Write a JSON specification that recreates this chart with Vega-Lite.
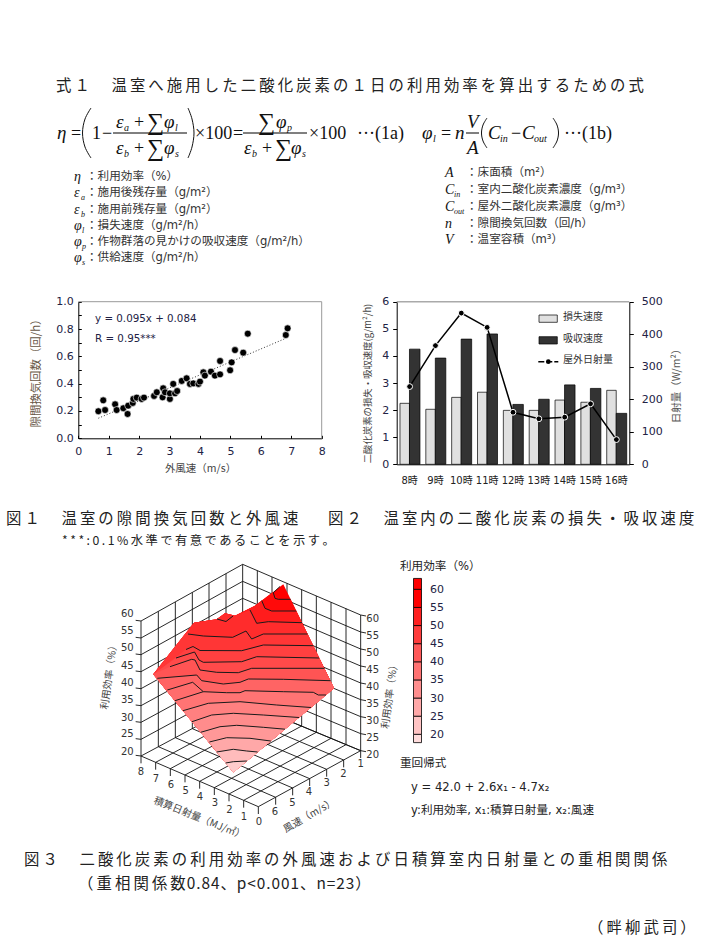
{
"$schema":"https://vega.github.io/schema/vega-lite/v6.json",
"width":705,"height":941,"padding":0,"autosize":{"type":"none"},"background":"white",
"config":{"view":{"stroke":null},"axis":{"grid":false,"labelFlush":false},"text":{"font":"Noto Sans CJK JP"}},
"resolve":{"scale":{"x":"independent","y":"independent","color":"independent"},"axis":{"x":"independent","y":"independent"}},
"datasets":{
"scatter":[{"w":0.66,"n":0.198},{"w":0.82,"n":0.278},{"w":0.88,"n":0.207},{"w":1.21,"n":0.249},{"w":1.26,"n":0.207},{"w":1.48,"n":0.22},{"w":1.62,"n":0.178},{"w":1.64,"n":0.239},{"w":1.79,"n":0.259},{"w":1.81,"n":0.288},{"w":1.92,"n":0.298},{"w":2.08,"n":0.288},{"w":2.16,"n":0.298},{"w":2.49,"n":0.31},{"w":2.58,"n":0.337},{"w":2.79,"n":0.366},{"w":2.77,"n":0.3},{"w":2.85,"n":0.337},{"w":3.01,"n":0.288},{"w":3.01,"n":0.329},{"w":3.12,"n":0.398},{"w":3.18,"n":0.329},{"w":3.25,"n":0.346},{"w":3.4,"n":0.42},{"w":3.56,"n":0.439},{"w":3.67,"n":0.398},{"w":3.78,"n":0.402},{"w":3.95,"n":0.398},{"w":4.0,"n":0.415},{"w":4.11,"n":0.483},{"w":4.16,"n":0.459},{"w":4.36,"n":0.488},{"w":4.49,"n":0.459},{"w":4.66,"n":0.468},{"w":4.66,"n":0.566},{"w":4.99,"n":0.498},{"w":5.04,"n":0.556},{"w":5.15,"n":0.646},{"w":5.42,"n":0.627},{"w":5.57,"n":0.766},{"w":6.82,"n":0.756},{"w":6.88,"n":0.805}],
"hourly":[{"h":"8時","loss":2.25,"absorb":4.25,"solar":239},{"h":"9時","loss":2.03,"absorb":3.92,"solar":365},{"h":"10時","loss":2.47,"absorb":4.62,"solar":465},{"h":"11時","loss":2.66,"absorb":4.81,"solar":421},{"h":"12時","loss":1.99,"absorb":2.21,"solar":160},{"h":"13時","loss":1.99,"absorb":2.4,"solar":140},{"h":"14時","loss":2.37,"absorb":2.93,"solar":145},{"h":"15時","loss":2.29,"absorb":2.8,"solar":186},{"h":"16時","loss":2.73,"absorb":1.88,"solar":76}],
"grid3d":[
{"u":213,"v":603,"u2":518,"v2":440},{"u":213,"v":553,"u2":518,"v2":388},{"u":213,"v":502,"u2":518,"v2":336},{"u":213,"v":452,"u2":518,"v2":285},{"u":213,"v":401,"u2":518,"v2":233},{"u":213,"v":350,"u2":518,"v2":182},{"u":213,"v":299,"u2":518,"v2":130},{"u":213,"v":249,"u2":518,"v2":79},{"u":213,"v":198,"u2":518,"v2":28},
{"u":518,"v":440,"u2":872,"v2":587},{"u":518,"v":388,"u2":872,"v2":536},{"u":518,"v":336,"u2":872,"v2":485},{"u":518,"v":285,"u2":872,"v2":434},{"u":518,"v":233,"u2":872,"v2":384},{"u":518,"v":182,"u2":872,"v2":333},{"u":518,"v":130,"u2":872,"v2":282},{"u":518,"v":79,"u2":872,"v2":231},{"u":518,"v":28,"u2":872,"v2":180},
{"u":213,"v":198,"u2":213,"v2":603},{"u":265,"v":169,"u2":265,"v2":575},{"u":316,"v":141,"u2":316,"v2":548},{"u":367,"v":112,"u2":367,"v2":521},{"u":417,"v":84,"u2":417,"v2":494},{"u":468,"v":56,"u2":468,"v2":467},{"u":518,"v":28,"u2":518,"v2":440},
{"u":562,"v":47,"u2":562,"v2":458},{"u":606,"v":66,"u2":606,"v2":477},{"u":651,"v":85,"u2":651,"v2":495},{"u":695,"v":104,"u2":695,"v2":513},{"u":739,"v":123,"u2":739,"v2":532},{"u":783,"v":142,"u2":783,"v2":550},{"u":828,"v":161,"u2":828,"v2":569},{"u":872,"v":180,"u2":872,"v2":587},
{"u":213,"v":603,"u2":565,"v2":755},{"u":265,"v":575,"u2":617,"v2":727},{"u":316,"v":548,"u2":668,"v2":699},{"u":367,"v":521,"u2":719,"v2":671},{"u":417,"v":494,"u2":770,"v2":643},{"u":468,"v":467,"u2":821,"v2":615},{"u":518,"v":440,"u2":872,"v2":587},
{"u":257,"v":622,"u2":562,"v2":458},{"u":301,"v":641,"u2":606,"v2":477},{"u":345,"v":660,"u2":651,"v2":495},{"u":389,"v":679,"u2":695,"v2":513},{"u":433,"v":698,"u2":739,"v2":532},{"u":477,"v":717,"u2":783,"v2":550},{"u":521,"v":736,"u2":828,"v2":569},{"u":565,"v":755,"u2":872,"v2":587},
{"u":213,"v":603,"u2":213,"v2":625},{"u":257,"v":622,"u2":257,"v2":644},{"u":301,"v":641,"u2":301,"v2":663},{"u":345,"v":660,"u2":345,"v2":682},{"u":389,"v":679,"u2":389,"v2":701},{"u":433,"v":698,"u2":433,"v2":720},{"u":477,"v":717,"u2":477,"v2":739},{"u":521,"v":736,"u2":521,"v2":758},{"u":565,"v":755,"u2":565,"v2":777},
{"u":617,"v":727,"u2":617,"v2":749},{"u":668,"v":699,"u2":668,"v2":721},{"u":719,"v":671,"u2":719,"v2":693},{"u":770,"v":643,"u2":770,"v2":665},{"u":821,"v":615,"u2":821,"v2":637},{"u":872,"v":587,"u2":872,"v2":609},
{"u":197,"v":601,"u2":213,"v2":603},{"u":197,"v":551,"u2":213,"v2":553},{"u":197,"v":500,"u2":213,"v2":502},{"u":197,"v":450,"u2":213,"v2":452},{"u":197,"v":399,"u2":213,"v2":401},{"u":197,"v":348,"u2":213,"v2":350},{"u":197,"v":297,"u2":213,"v2":299},{"u":197,"v":247,"u2":213,"v2":249},{"u":197,"v":196,"u2":213,"v2":198},
{"u":872,"v":587,"u2":888,"v2":590},{"u":872,"v":536,"u2":888,"v2":539},{"u":872,"v":485,"u2":888,"v2":488},{"u":872,"v":434,"u2":888,"v2":437},{"u":872,"v":384,"u2":888,"v2":387},{"u":872,"v":333,"u2":888,"v2":336},{"u":872,"v":282,"u2":888,"v2":285},{"u":872,"v":231,"u2":888,"v2":234},{"u":872,"v":180,"u2":888,"v2":183}],
"bands":[
{"b":"s","u":153.3,"v":674.3,"v2":674.3},{"b":"s","u":194,"v":622.7,"v2":724.2},{"b":"s","u":216.7,"v":619.3,"v2":752},{"b":"s","u":225,"v":613.3,"v2":762.1},{"b":"s","u":233.3,"v":615.3,"v2":772.3},{"b":"s","u":235,"v":615.7,"v2":770.9},{"b":"s","u":255,"v":605.7,"v2":754.2},{"b":"s","u":283.3,"v":584.3,"v2":730.6},{"b":"s","u":334,"v":688.3,"v2":688.3},
{"b":"C","u":153.3,"v":674.3,"v2":674.3},{"b":"C","u":194,"v":622.7,"v2":724.2},{"b":"C","u":216.7,"v":619.3,"v2":752},{"b":"C","u":225,"v":613.3,"v2":762.1},{"b":"C","u":233.3,"v":615.3,"v2":772.3},{"b":"C","u":235,"v":615.7,"v2":770.9},{"b":"C","u":255,"v":605.7,"v2":754.2},{"b":"C","u":273,"v":592,"v2":739.2},{"b":"C","u":278.3,"v":599.3,"v2":734.7},{"b":"C","u":290.6,"v":599.3,"v2":724.5},{"b":"C","u":334,"v":688.3,"v2":688.3},
{"b":"B","u":153.3,"v":674.3,"v2":674.3},{"b":"B","u":194,"v":622.7,"v2":724.2},{"b":"B","u":216.7,"v":619.3,"v2":752},{"b":"B","u":225,"v":613.3,"v2":762.1},{"b":"B","u":233.3,"v":615.3,"v2":772.3},{"b":"B","u":235,"v":615.7,"v2":770.9},{"b":"B","u":255,"v":605.7,"v2":754.2},{"b":"B","u":261.7,"v":600.6,"v2":748.7},{"b":"B","u":265,"v":608.3,"v2":745.9},{"b":"B","u":271.7,"v":611,"v2":740.3},{"b":"B","u":296.3,"v":611,"v2":719.8},{"b":"B","u":334,"v":688.3,"v2":688.3},
{"b":"A","u":153.3,"v":674.3,"v2":674.3},{"b":"A","u":194,"v":622.7,"v2":724.2},{"b":"A","u":216.7,"v":619.3,"v2":752},{"b":"A","u":225,"v":613.3,"v2":762.1},{"b":"A","u":233.3,"v":615.3,"v2":772.3},{"b":"A","u":235,"v":615.7,"v2":770.9},{"b":"A","u":250,"v":610,"v2":758.4},{"b":"A","u":256.7,"v":623.3,"v2":752.8},{"b":"A","u":268.3,"v":621.7,"v2":743.1},{"b":"A","u":302,"v":622.7,"v2":715},{"b":"A","u":334,"v":688.3,"v2":688.3},
{"b":"c11","u":153.3,"v":674.3,"v2":674.3},{"b":"c11","u":186,"v":632.8,"v2":714.4},{"b":"c11","u":203.3,"v":636,"v2":735.6},{"b":"c11","u":232.7,"v":637.3,"v2":771.6},{"b":"c11","u":246,"v":631,"v2":761.7},{"b":"c11","u":251.7,"v":639,"v2":756.9},{"b":"c11","u":263.3,"v":634,"v2":747.3},{"b":"c11","u":307.5,"v":634,"v2":710.3},{"b":"c11","u":334,"v":688.3,"v2":688.3},
{"b":"c10","u":153.3,"v":674.3,"v2":674.3},{"b":"c10","u":186,"v":649.5,"v2":714.4},{"b":"c10","u":193,"v":646.5,"v2":722.9},{"b":"c10","u":200,"v":650.5,"v2":731.5},{"b":"c10","u":241.7,"v":650.7,"v2":765.3},{"b":"c10","u":263.3,"v":645,"v2":747.3},{"b":"c10","u":313.3,"v":645.7,"v2":705.5},{"b":"c10","u":334,"v":688.3,"v2":688.3},
{"b":"c9","u":153.3,"v":674.3,"v2":674.3},{"b":"c9","u":176,"v":658,"v2":702.1},{"b":"c9","u":194.5,"v":652,"v2":724.8},{"b":"c9","u":199,"v":660,"v2":730.3},{"b":"c9","u":203.3,"v":662.3,"v2":735.6},{"b":"c9","u":241.7,"v":661.7,"v2":765.3},{"b":"c9","u":256.7,"v":656.7,"v2":752.8},{"b":"c9","u":319,"v":658,"v2":700.8},{"b":"c9","u":334,"v":688.3,"v2":688.3},
{"b":"c8","u":153.3,"v":674.3,"v2":674.3},{"b":"c8","u":170,"v":666.7,"v2":694.8},{"b":"c8","u":191.7,"v":659.3,"v2":721.4},{"b":"c8","u":195,"v":660,"v2":725.4},{"b":"c8","u":200,"v":670,"v2":731.5},{"b":"c8","u":216.7,"v":672.3,"v2":752},{"b":"c8","u":233.3,"v":672.6,"v2":772.3},{"b":"c8","u":238.3,"v":672.7,"v2":768.1},{"b":"c8","u":251.7,"v":668.3,"v2":757},{"b":"c8","u":324.3,"v":668.3,"v2":696.5},{"b":"c8","u":334,"v":688.3,"v2":688.3},
{"b":"c7","u":153.3,"v":674.3,"v2":674.3},{"b":"c7","u":157.3,"v":678.3,"v2":679.2},{"b":"c7","u":196.7,"v":675,"v2":727.5},{"b":"c7","u":201.7,"v":680.7,"v2":733.6},{"b":"c7","u":223.3,"v":684,"v2":760},{"b":"c7","u":233.3,"v":683,"v2":772.3},{"b":"c7","u":240,"v":682.3,"v2":766.7},{"b":"c7","u":248.3,"v":679,"v2":759.8},{"b":"c7","u":283.3,"v":679.3,"v2":730.6},{"b":"c7","u":330.5,"v":680.7,"v2":691.2},{"b":"c7","u":334,"v":688.3,"v2":688.3},
{"b":"c6b","u":166.4,"v":690.3,"v2":690.3},{"b":"c6b","u":192.7,"v":682.3,"v2":722.6},{"b":"c6b","u":203.3,"v":691.7,"v2":735.6},{"b":"c6b","u":233.3,"v":692.7,"v2":772.3},{"b":"c6b","u":283.3,"v":691.7,"v2":730.6},{"b":"c6b","u":313.3,"v":692.3,"v2":705.6},{"b":"c6b","u":318.3,"v":695,"v2":701.4},{"b":"c6b","u":326,"v":695,"v2":695},
{"b":"c6","u":175,"v":700.7,"v2":700.7},{"b":"c6","u":203.3,"v":691.7,"v2":735.6},{"b":"c6","u":226.7,"v":692.7,"v2":764},{"b":"c6","u":233.3,"v":692.7,"v2":772.3},{"b":"c6","u":240,"v":692.7,"v2":766.7},{"b":"c6","u":245,"v":690.7,"v2":762.5},{"b":"c6","u":283.3,"v":691.7,"v2":730.6},{"b":"c6","u":313.3,"v":692.3,"v2":705.6},{"b":"c6","u":318.3,"v":695,"v2":701.4},{"b":"c6","u":326,"v":695,"v2":695},
{"b":"c5","u":183,"v":710.7,"v2":710.7},{"b":"c5","u":208.3,"v":703.3,"v2":741.7},{"b":"c5","u":233.3,"v":702,"v2":772.3},{"b":"c5","u":240,"v":701.7,"v2":766.7},{"b":"c5","u":276.7,"v":705,"v2":736.1},{"b":"c5","u":311,"v":707.5,"v2":707.5},
{"b":"c4","u":192,"v":721.7,"v2":721.7},{"b":"c4","u":211.7,"v":715,"v2":745.8},{"b":"c4","u":233.3,"v":713.3,"v2":772.3},{"b":"c4","u":263.3,"v":715,"v2":747.3},{"b":"c4","u":299,"v":717.5,"v2":717.5},
{"b":"c3","u":200.7,"v":732.3,"v2":732.3},{"b":"c3","u":220,"v":726.7,"v2":756},{"b":"c3","u":233.3,"v":725.5,"v2":772.3},{"b":"c3","u":236.7,"v":725.3,"v2":769.5},{"b":"c3","u":263.3,"v":727.3,"v2":747.3},{"b":"c3","u":285,"v":729.2,"v2":729.2},
{"b":"c2","u":209.4,"v":742,"v2":742},{"b":"c2","u":226.7,"v":737.7,"v2":764.2},{"b":"c2","u":233.3,"v":737.7,"v2":772.3},{"b":"c2","u":250,"v":738.3,"v2":758.4},{"b":"c2","u":270.8,"v":741,"v2":741},
{"b":"c1","u":216.7,"v":752,"v2":752},{"b":"c1","u":233.3,"v":749.3,"v2":772.3},{"b":"c1","u":246.7,"v":751,"v2":761.1},{"b":"c1","u":257.6,"v":752,"v2":752},
{"b":"c0","u":225.7,"v":763,"v2":763},{"b":"c0","u":233.3,"v":761.7,"v2":772.3},{"b":"c0","u":246.9,"v":761,"v2":761}],
"contours":[
{"c":"c0","i":1,"u":225.7,"v":763},{"c":"c0","i":2,"u":233.3,"v":761.7},{"c":"c0","i":3,"u":246.9,"v":761},
{"c":"c1","i":1,"u":216.7,"v":752},{"c":"c1","i":2,"u":233.3,"v":749.3},{"c":"c1","i":3,"u":246.7,"v":751},{"c":"c1","i":4,"u":257.6,"v":752},
{"c":"c2","i":1,"u":209.4,"v":742},{"c":"c2","i":2,"u":226.7,"v":737.7},{"c":"c2","i":3,"u":250,"v":738.3},{"c":"c2","i":4,"u":270.8,"v":741},
{"c":"c3","i":1,"u":200.7,"v":732.3},{"c":"c3","i":2,"u":220,"v":726.7},{"c":"c3","i":3,"u":236.7,"v":725.3},{"c":"c3","i":4,"u":263.3,"v":727.3},{"c":"c3","i":5,"u":285,"v":729.2},
{"c":"c4","i":1,"u":192,"v":721.7},{"c":"c4","i":2,"u":211.7,"v":715},{"c":"c4","i":3,"u":233.3,"v":713.3},{"c":"c4","i":4,"u":263.3,"v":715},{"c":"c4","i":5,"u":299,"v":717.5},
{"c":"c5","i":1,"u":183,"v":710.7},{"c":"c5","i":2,"u":208.3,"v":703.3},{"c":"c5","i":3,"u":240,"v":701.7},{"c":"c5","i":4,"u":276.7,"v":705},{"c":"c5","i":5,"u":311,"v":707.5},
{"c":"c6","i":1,"u":175,"v":700.7},{"c":"c6","i":2,"u":203.3,"v":691.7},{"c":"c6","i":3,"u":226.7,"v":692.7},{"c":"c6","i":4,"u":240,"v":692.7},{"c":"c6","i":5,"u":245,"v":690.7},{"c":"c6","i":6,"u":283.3,"v":691.7},{"c":"c6","i":7,"u":313.3,"v":692.3},{"c":"c6","i":8,"u":318.3,"v":695},{"c":"c6","i":9,"u":326,"v":695},
{"c":"c6b","i":1,"u":167.3,"v":690},{"c":"c6b","i":2,"u":192.7,"v":682.3},{"c":"c6b","i":3,"u":203.3,"v":691.7},
{"c":"c7","i":1,"u":157.3,"v":678.3},{"c":"c7","i":2,"u":196.7,"v":675},{"c":"c7","i":3,"u":201.7,"v":680.7},{"c":"c7","i":4,"u":223.3,"v":684},{"c":"c7","i":5,"u":240,"v":682.3},{"c":"c7","i":6,"u":248.3,"v":679},{"c":"c7","i":7,"u":283.3,"v":679.3},{"c":"c7","i":8,"u":330.5,"v":680.7},
{"c":"c8","i":1,"u":170,"v":666.7},{"c":"c8","i":2,"u":191.7,"v":659.3},{"c":"c8","i":3,"u":195,"v":660},{"c":"c8","i":4,"u":200,"v":670},{"c":"c8","i":5,"u":216.7,"v":672.3},{"c":"c8","i":6,"u":238.3,"v":672.7},{"c":"c8","i":7,"u":251.7,"v":668.3},{"c":"c8","i":8,"u":324.3,"v":668.3},
{"c":"c9","i":1,"u":176,"v":658},{"c":"c9","i":2,"u":194.5,"v":652},{"c":"c9","i":3,"u":199,"v":660},{"c":"c9","i":4,"u":203.3,"v":662.3},{"c":"c9","i":5,"u":241.7,"v":661.7},{"c":"c9","i":6,"u":256.7,"v":656.7},{"c":"c9","i":7,"u":319,"v":658},
{"c":"c10","i":1,"u":186,"v":649.5},{"c":"c10","i":2,"u":193,"v":646.5},{"c":"c10","i":3,"u":200,"v":650.5},{"c":"c10","i":4,"u":241.7,"v":650.7},{"c":"c10","i":5,"u":263.3,"v":645},{"c":"c10","i":6,"u":313.3,"v":645.7},
{"c":"c11","i":1,"u":188,"v":634},{"c":"c11","i":2,"u":203.3,"v":636},{"c":"c11","i":3,"u":232.7,"v":637.3},{"c":"c11","i":4,"u":246,"v":631},{"c":"c11","i":5,"u":251.7,"v":639},{"c":"c11","i":6,"u":263.3,"v":634},{"c":"c11","i":7,"u":307.5,"v":634},
{"c":"A","i":1,"u":250,"v":610},{"c":"A","i":2,"u":256.7,"v":623.3},{"c":"A","i":3,"u":268.3,"v":621.7},{"c":"A","i":4,"u":302,"v":622.7},
{"c":"B","i":1,"u":261.7,"v":600.6},{"c":"B","i":2,"u":265,"v":608.3},{"c":"B","i":3,"u":271.7,"v":611},{"c":"B","i":4,"u":296.3,"v":611},
{"c":"C","i":1,"u":280,"v":586.5},{"c":"C","i":2,"u":273.3,"v":592.7},{"c":"C","i":3,"u":275,"v":598.3},{"c":"C","i":4,"u":278.3,"v":599.3},{"c":"C","i":5,"u":290.6,"v":599.3},
{"c":"D","i":1,"u":217,"v":619},{"c":"D","i":2,"u":226,"v":621.5},{"c":"D","i":3,"u":233,"v":616}],
"cbar":[{"lo":17.7,"hi":20},{"lo":20,"hi":25},{"lo":25,"hi":30},{"lo":30,"hi":35},{"lo":35,"hi":40},{"lo":40,"hi":45},{"lo":45,"hi":50},{"lo":50,"hi":55},{"lo":55,"hi":60},{"lo":60,"hi":63}],
"parens":[
{"p":"a","i":1,"a":91,"b":108},{"p":"a","i":2,"a":85,"b":119},{"p":"a","i":3,"a":82.5,"b":133},{"p":"a","i":4,"a":85,"b":147},{"p":"a","i":5,"a":91,"b":158},
{"p":"b","i":1,"a":188,"b":108},{"p":"b","i":2,"a":192,"b":119},{"p":"b","i":3,"a":194,"b":133},{"p":"b","i":4,"a":192,"b":147},{"p":"b","i":5,"a":188,"b":158},
{"p":"c","i":1,"a":487,"b":118},{"p":"c","i":2,"a":483,"b":125},{"p":"c","i":3,"a":481.5,"b":133},{"p":"c","i":4,"a":483,"b":141},{"p":"c","i":5,"a":487,"b":148},
{"p":"d","i":1,"a":553,"b":118},{"p":"d","i":2,"a":557,"b":125},{"p":"d","i":3,"a":558.5,"b":133},{"p":"d","i":4,"a":557,"b":141},{"p":"d","i":5,"a":553,"b":148}]
},
"layer":[
{"data":{"values":[{"a":0,"a2":8,"b":1,"b2":1},{"a":8,"a2":8,"b":0,"b2":1}]},"mark":{"type":"rule","color":"#999999","strokeWidth":1},
"encoding":{"x":{"field":"a","type":"quantitative","scale":{"domain":[0,8],"range":[78.3,321.7]},"axis":null},"x2":{"field":"a2"},"y":{"field":"b","type":"quantitative","scale":{"domain":[0,1],"range":[438.3,301.7]},"axis":null},"y2":{"field":"b2"}}},
{"data":{"values":[{"w":0.66,"n":0.147},{"w":6.79,"n":0.729}]},"mark":{"type":"line","color":"#333333","strokeWidth":1,"strokeDash":[1,2]},
"encoding":{"x":{"field":"w","type":"quantitative","scale":{"domain":[0,8],"range":[78.3,321.7]},"axis":null},"y":{"field":"n","type":"quantitative","scale":{"domain":[0,1],"range":[438.3,301.7]},"axis":null}}},
{"data":{"name":"scatter"},"mark":{"type":"point","filled":true,"fill":"#000000","stroke":"#ffffff","strokeWidth":0.6,"opacity":1,"size":48},
"encoding":{"x":{"field":"w","type":"quantitative","title":"外風速（m/s）","scale":{"domain":[0,8],"range":[78.3,321.7]},"axis":{"orient":"bottom","offset":-502.7,"values":[0,0.5,1,1.5,2,2.5,3,3.5,4,4.5,5,5.5,6,6.5,7,7.5,8],"labelExpr":"datum.value%1==0?datum.label:''","format":"d","labelFont":"DejaVu Sans","labelFontSize":11,"labelColor":"#222244","labelPadding":10,"tickSize":-3,"tickColor":"#000","domainColor":"#000","titleFont":"Noto Sans CJK JP","titleFontSize":10.5,"titleFontWeight":"normal","titleColor":"#444","titlePadding":7,"labelOverlap":false}},
"y":{"field":"n","type":"quantitative","title":"隙間換気回数（回/h）","scale":{"domain":[0,1],"range":[438.3,301.7]},"axis":{"orient":"left","offset":-78.3,"values":[0,0.1,0.2,0.3,0.4,0.5,0.6,0.7,0.8,0.9,1],"labelExpr":"(round(datum.value*10)%2==0)?format(datum.value,'.1f'):''","labelFont":"DejaVu Sans","labelFontSize":11,"labelColor":"#222244","labelPadding":8,"tickSize":-3,"tickColor":"#000","domainColor":"#000","titleFont":"Noto Sans CJK JP","titleFontSize":11.4,"titleFontWeight":"normal","titleColor":"#665544","titlePadding":14,"labelOverlap":false}}}},
{"data":{"values":[{"t":"y = 0.095x + 0.084","w":0.55,"n":0.877},{"t":"R = 0.95***","w":0.55,"n":0.73}]},"mark":{"type":"text","align":"left","baseline":"middle","font":"DejaVu Sans","fontSize":10.3,"color":"#222244"},
"encoding":{"text":{"field":"t"},"x":{"field":"w","type":"quantitative","scale":{"domain":[0,8],"range":[78.3,321.7]},"axis":null},"y":{"field":"n","type":"quantitative","scale":{"domain":[0,1],"range":[438.3,301.7]},"axis":null}}},

{"data":{"values":[{"s":0}]},"mark":{"type":"rule","color":"#aaaaaa","strokeWidth":1.5},
"encoding":{"y":{"datum":6,"type":"quantitative","scale":{"domain":[0,6],"range":[464.3,301.7]},"axis":null},"x":{"datum":0,"type":"quantitative","scale":{"domain":[0,1],"range":[396.7,629.3]},"axis":null},"x2":{"datum":1}}},
{"data":{"name":"hourly"},"mark":{"type":"bar","width":9.5,"xOffset":-4.9,"fill":"#e0e0e0","stroke":"#000000","strokeWidth":0.7},
"encoding":{"x":{"field":"h","type":"nominal","sort":null,"title":null,"scale":{"type":"band","domain":["8時","9時","10時","11時","12時","13時","14時","15時","16時"],"range":[396.7,629.3],"paddingInner":0,"paddingOuter":0},"axis":{"orient":"bottom","offset":-476.7,"labelAngle":0,"ticks":false,"domainColor":"#000","labelFont":"DejaVu Sans, Noto Sans CJK JP","labelFontSize":10,"labelColor":"#222","labelPadding":11,"labelOverlap":false}},
"y":{"field":"loss","type":"quantitative","title":"二酸化炭素の損失・吸収速度(g/m²/h)","scale":{"domain":[0,6],"range":[464.3,301.7]},"axis":{"orient":"left","offset":-396.7,"values":[0,1,2,3,4,5,6],"tickSize":4,"tickColor":"#000","domainColor":"#000","labelFont":"DejaVu Sans","labelFontSize":11,"labelColor":"#222244","labelPadding":4,"titleFont":"Noto Sans CJK JP","titleFontSize":9.4,"titleFontWeight":"normal","titleColor":"#444","titlePadding":9}}}},
{"data":{"name":"hourly"},"mark":{"type":"bar","width":10.5,"xOffset":5.1,"fill":"#333333","stroke":"#000000","strokeWidth":0.7},
"encoding":{"x":{"field":"h","type":"nominal","sort":null,"scale":{"type":"band","domain":["8時","9時","10時","11時","12時","13時","14時","15時","16時"],"range":[396.7,629.3],"paddingInner":0,"paddingOuter":0},"axis":null},
"y":{"field":"absorb","type":"quantitative","scale":{"domain":[0,6],"range":[464.3,301.7]},"axis":null}}},
{"data":{"name":"hourly"},"mark":{"type":"line","color":"#000000","strokeWidth":1.5},
"encoding":{"x":{"field":"h","type":"nominal","sort":null,"scale":{"type":"band","domain":["8時","9時","10時","11時","12時","13時","14時","15時","16時"],"range":[396.7,629.3],"paddingInner":0,"paddingOuter":0},"axis":null},
"y":{"field":"solar","type":"quantitative","scale":{"domain":[0,500],"range":[464.3,301.7]},"axis":null}}},
{"data":{"name":"hourly"},"mark":{"type":"point","filled":true,"fill":"#000000","stroke":"#ffffff","strokeWidth":1,"opacity":1,"size":34},
"encoding":{"x":{"field":"h","type":"nominal","sort":null,"scale":{"type":"band","domain":["8時","9時","10時","11時","12時","13時","14時","15時","16時"],"range":[396.7,629.3],"paddingInner":0,"paddingOuter":0},"axis":null},
"y":{"field":"solar","type":"quantitative","title":"日射量（W/m²）","scale":{"domain":[0,500],"range":[464.3,301.7]},"axis":{"orient":"right","offset":-75.7,"values":[0,100,200,300,400,500],"tickSize":4,"tickColor":"#000","domainColor":"#000","labelFont":"DejaVu Sans","labelFontSize":11,"labelColor":"#222244","labelPadding":8,"titleFont":"Noto Sans CJK JP","titleFontSize":10.5,"titleFontWeight":"normal","titleColor":"#555","titlePadding":19,"titleAngle":270}}}},
{"data":{"values":[{"k":"損失速度","a":539,"a2":557.3,"b":315,"b2":322.3},{"k":"吸収速度","a":539,"a2":557.3,"b":336.7,"b2":344}]},"mark":{"type":"rect","stroke":"#000000","strokeWidth":0.7},
"encoding":{"x":{"field":"a","type":"quantitative","scale":{"domain":[0,705],"range":[0,705]},"axis":null},"x2":{"field":"a2"},"y":{"field":"b","type":"quantitative","scale":{"domain":[0,941],"range":[0,941]},"axis":null},"y2":{"field":"b2"},"color":{"field":"k","type":"nominal","legend":null,"scale":{"domain":["損失速度","吸収速度"],"range":["#e0e0e0","#333333"]}}}},
{"data":{"values":[{"a":538.3,"b":361.7},{"a":558.3,"b":361.7}]},"mark":{"type":"line","color":"#000000","strokeWidth":1.5,"strokeDash":[6,2]},
"encoding":{"x":{"field":"a","type":"quantitative","scale":{"domain":[0,705],"range":[0,705]},"axis":null},"y":{"field":"b","type":"quantitative","scale":{"domain":[0,941],"range":[0,941]},"axis":null}}},
{"data":{"values":[{"a":548.3,"b":361.7}]},"mark":{"type":"point","filled":true,"fill":"#000000","opacity":1,"size":22},
"encoding":{"x":{"field":"a","type":"quantitative","scale":{"domain":[0,705],"range":[0,705]},"axis":null},"y":{"field":"b","type":"quantitative","scale":{"domain":[0,941],"range":[0,941]},"axis":null}}},
{"data":{"values":[{"t":"損失速度","a":563,"b":316.5},{"t":"吸収速度","a":563,"b":339},{"t":"屋外日射量","a":563,"b":360}]},"mark":{"type":"text","align":"left","baseline":"middle","font":"Noto Sans CJK JP","fontSize":10,"color":"#333333"},
"encoding":{"text":{"field":"t"},"x":{"field":"a","type":"quantitative","scale":{"domain":[0,705],"range":[0,705]},"axis":null},"y":{"field":"b","type":"quantitative","scale":{"domain":[0,941],"range":[0,941]},"axis":null}}},

{"data":{"name":"grid3d"},"mark":{"type":"rule","color":"#111111","strokeWidth":0.9},
"encoding":{"x":{"field":"u","type":"quantitative","scale":{"domain":[0,990],"range":[70,400]},"axis":null},"x2":{"field":"u2"},"y":{"field":"v","type":"quantitative","scale":{"domain":[0,870],"range":[555,845]},"axis":null},"y2":{"field":"v2"}}},
{"data":{"name":"bands"},"mark":{"type":"area","opacity":1,"interpolate":"linear"},
"encoding":{"x":{"field":"u","type":"quantitative","scale":{"domain":[0,705],"range":[0,705]},"axis":null},"y":{"field":"v","type":"quantitative","stack":null,"scale":{"domain":[0,941],"range":[0,941]},"axis":null},"y2":{"field":"v2"},
"color":{"field":"b","type":"nominal","legend":null,"sort":null,"scale":{"domain":["s","C","B","A","c11","c10","c9","c8","c7","c6b","c6","c5","c4","c3","c2","c1","c0"],"range":["#ff0000","#ff0a0a","#ff1c1c","#ff2c2c","#ff3636","#ff4040","#ff4a4a","#ff5454","#ff6464","#ff6c6c","#ff7474","#ff8080","#ff8c8c","#ff9898","#ffa8a8","#ffbcbc","#ffcccc"]}}}},
{"data":{"name":"contours"},"mark":{"type":"line","color":"#1a1a1a","strokeWidth":1},
"encoding":{"x":{"field":"u","type":"quantitative","scale":{"domain":[0,705],"range":[0,705]},"axis":null},"y":{"field":"v","type":"quantitative","scale":{"domain":[0,941],"range":[0,941]},"axis":null},"detail":{"field":"c"},"order":{"field":"i"}}},
{"data":{"values":[{"t":"60","u":172,"v":178},{"t":"55","u":172,"v":228},{"t":"50","u":172,"v":280},{"t":"45","u":172,"v":332},{"t":"40","u":172,"v":385},{"t":"35","u":172,"v":435},{"t":"30","u":172,"v":488},{"t":"25","u":172,"v":538},{"t":"20","u":172,"v":590},{"t":"60","u":908,"v":192},{"t":"55","u":908,"v":243},{"t":"50","u":908,"v":295},{"t":"45","u":908,"v":345},{"t":"40","u":908,"v":395},{"t":"35","u":908,"v":447},{"t":"30","u":908,"v":497},{"t":"25","u":908,"v":550},{"t":"20","u":908,"v":600},{"t":"8","u":213,"v":652},{"t":"7","u":258,"v":672},{"t":"6","u":303,"v":690},{"t":"5","u":347,"v":708},{"t":"4","u":390,"v":727},{"t":"3","u":435,"v":745},{"t":"2","u":478,"v":765},{"t":"1","u":522,"v":785},{"t":"0","u":567,"v":800},{"t":"6","u":615,"v":770},{"t":"5","u":667,"v":745},{"t":"4","u":717,"v":712},{"t":"3","u":770,"v":683},{"t":"2","u":820,"v":658},{"t":"1","u":872,"v":628}]},"mark":{"type":"text","font":"DejaVu Sans","fontSize":10,"color":"#333333","align":"center","baseline":"middle"},
"encoding":{"text":{"field":"t"},"x":{"field":"u","type":"quantitative","scale":{"domain":[0,990],"range":[70,400]},"axis":null},"y":{"field":"v","type":"quantitative","scale":{"domain":[0,870],"range":[555,845]},"axis":null}}},
{"data":{"values":[{"t":"積算日射量（MJ/㎡）","u":388,"v":790}]},"mark":{"type":"text","font":"Noto Sans CJK JP","fontSize":10,"color":"#444444","align":"center","baseline":"middle","angle":22},
"encoding":{"text":{"field":"t"},"x":{"field":"u","type":"quantitative","scale":{"domain":[0,990],"range":[70,400]},"axis":null},"y":{"field":"v","type":"quantitative","scale":{"domain":[0,870],"range":[555,845]},"axis":null}}},
{"data":{"values":[{"t":"風速（m/s）","u":718,"v":782}]},"mark":{"type":"text","font":"Noto Sans CJK JP","fontSize":10,"color":"#444444","align":"center","baseline":"middle","angle":-30},
"encoding":{"text":{"field":"t"},"x":{"field":"u","type":"quantitative","scale":{"domain":[0,990],"range":[70,400]},"axis":null},"y":{"field":"v","type":"quantitative","scale":{"domain":[0,870],"range":[555,845]},"axis":null}}},
{"data":{"values":[{"t":"利用効率（%）","u":118,"v":360},{"t":"利用効率（%）","u":960,"v":418}]},"mark":{"type":"text","font":"Noto Sans CJK JP","fontSize":10,"color":"#444444","align":"center","baseline":"middle","angle":-82},
"encoding":{"text":{"field":"t"},"x":{"field":"u","type":"quantitative","scale":{"domain":[0,990],"range":[70,400]},"axis":null},"y":{"field":"v","type":"quantitative","scale":{"domain":[0,870],"range":[555,845]},"axis":null}}},
{"data":{"name":"cbar"},"mark":{"type":"rect","stroke":"#000000","strokeWidth":0.8},
"encoding":{"x":{"datum":0,"type":"quantitative","scale":{"domain":[0,1],"range":[413.5,421.5]},"axis":null},"x2":{"datum":1},"y":{"field":"lo","type":"quantitative","title":null,"scale":{"domain":[20,60],"range":[734.3,589.3]},"axis":{"orient":"right","offset":-283.5,"values":[20,25,30,35,40,45,50,55,60],"ticks":false,"domain":false,"labelFont":"DejaVu Sans","labelFontSize":11,"labelColor":"#222244","labelPadding":8}},"y2":{"field":"hi"},
"color":{"field":"lo","type":"ordinal","legend":null,"scale":{"domain":[17.7,20,25,30,35,40,45,50,55,60],"range":["#ffdcdc","#ffc4c4","#ffa8a8","#ff8e8e","#ff7272","#ff5858","#ff3c3c","#ff2020","#ff0000","#ff0000"]}}}},
{"data":{"values":[{"t":"利用効率（%）","a":400,"b":566.5},{"t":"重回帰式","a":400,"b":764},{"t":"y = 42.0 + 2.6x₁ - 4.7x₂","a":411,"b":788},{"t":"y:利用効率, x₁:積算日射量, x₂:風速","a":411,"b":811}]},"mark":{"type":"text","align":"left","baseline":"middle","font":"DejaVu Sans, Noto Sans CJK JP","fontSize":11.6,"color":"#222222"},
"encoding":{"text":{"field":"t"},"x":{"field":"a","type":"quantitative","scale":{"domain":[0,705],"range":[0,705]},"axis":null},"y":{"field":"b","type":"quantitative","scale":{"domain":[0,941],"range":[0,941]},"axis":null}}},

{"data":{"values":[
{"t":"式\u2009１\u2009　\u2009温\u2009室\u2009へ\u2009施\u2009用\u2009し\u2009た\u2009二\u2009酸\u2009化\u2009炭\u2009素\u2009の\u2009１\u2009日\u2009の\u2009利\u2009用\u2009効\u2009率\u2009を\u2009算\u2009出\u2009す\u2009る\u2009た\u2009め\u2009の\u2009式","a":56,"b":86},
{"t":"図\u2009１\u2009　\u2009温\u2009室\u2009の\u2009隙\u2009間\u2009換\u2009気\u2009回\u2009数\u2009と\u2009外\u2009風\u2009速","a":6,"b":519},
{"t":"図\u2009２\u2009　\u2009温\u2009室\u2009内\u2009の\u2009二\u2009酸\u2009化\u2009炭\u2009素\u2009の\u2009損\u2009失\u2009・\u2009吸\u2009収\u2009速\u2009度","a":328,"b":519},
{"t":"図\u2009３\u2009　\u2009二\u2009酸\u2009化\u2009炭\u2009素\u2009の\u2009利\u2009用\u2009効\u2009率\u2009の\u2009外\u2009風\u2009速\u2009お\u2009よ\u2009び\u2009日\u2009積\u2009算\u2009室\u2009内\u2009日\u2009射\u2009量\u2009と\u2009の\u2009重\u2009相\u2009関\u2009関\u2009係","a":24,"b":860},
{"t":"（\u2009重\u2009相\u2009関\u2009係\u2009数\u200a0\u200a.\u200a8\u200a4\u200a、\u200ap\u200a<\u200a0\u200a.\u200a0\u200a0\u200a1\u200a、\u200an\u200a=\u200a2\u200a3\u200a）","a":78,"b":884},
{"t":"（\u2009畔\u2009柳\u2009武\u2009司\u2009）","a":588,"b":928}
]},"mark":{"type":"text","align":"left","baseline":"middle","font":"Noto Sans CJK JP","fontSize":15.4,"color":"#222222"},
"encoding":{"text":{"field":"t"},"x":{"field":"a","type":"quantitative","scale":{"domain":[0,705],"range":[0,705]},"axis":null},"y":{"field":"b","type":"quantitative","scale":{"domain":[0,941],"range":[0,941]},"axis":null}}},
{"data":{"values":[{"t":"*\u2009*\u2009*\u2009:\u20090\u2009.\u20091\u2009%\u2009水\u2009準\u2009で\u2009有\u2009意\u2009で\u2009あ\u2009る\u2009こ\u2009と\u2009を\u2009示\u2009す\u2009。","a":62,"b":541}]},"mark":{"type":"text","align":"left","baseline":"middle","font":"Noto Sans CJK JP","fontSize":12.3,"color":"#222222"},
"encoding":{"text":{"field":"t"},"x":{"field":"a","type":"quantitative","scale":{"domain":[0,705],"range":[0,705]},"axis":null},"y":{"field":"b","type":"quantitative","scale":{"domain":[0,941],"range":[0,941]},"axis":null}}},
{"data":{"values":[
{"t":"：利用効率（%）","a":86,"b":177},{"t":"：施用後残存量（g/m²）","a":86,"b":193},{"t":"：施用前残存量（g/m²）","a":86,"b":209.5},{"t":"：損失速度（g/m²/h）","a":86,"b":226},{"t":"：作物群落の見かけの吸収速度（g/m²/h）","a":86,"b":242},{"t":"：供給速度（g/m²/h）","a":86,"b":258},
{"t":"：床面積（m²）","a":466,"b":173},{"t":"：室内二酸化炭素濃度（g/m³）","a":466,"b":190},{"t":"：屋外二酸化炭素濃度（g/m³）","a":466,"b":207},{"t":"：隙間換気回数（回/h）","a":466,"b":224},{"t":"：温室容積（m³）","a":466,"b":240}
]},"mark":{"type":"text","align":"left","baseline":"middle","font":"DejaVu Sans, Noto Sans CJK JP","fontSize":11.6,"color":"#333333"},
"encoding":{"text":{"field":"t"},"x":{"field":"a","type":"quantitative","scale":{"domain":[0,705],"range":[0,705]},"axis":null},"y":{"field":"b","type":"quantitative","scale":{"domain":[0,941],"range":[0,941]},"axis":null}}},
{"data":{"values":[{"t":"η","a":74,"b":181},{"t":"ε","a":74,"b":197},{"t":"ε","a":74,"b":213.5},{"t":"φ","a":74,"b":230},{"t":"φ","a":74,"b":246},{"t":"φ","a":74,"b":262},{"t":"A","a":445,"b":177},{"t":"C","a":445,"b":194},{"t":"C","a":445,"b":211},{"t":"n","a":445,"b":228},{"t":"V","a":445,"b":244}]},"mark":{"type":"text","align":"left","baseline":"alphabetic","font":"Liberation Serif","fontStyle":"italic","fontSize":14,"color":"#111111"},
"encoding":{"text":{"field":"t"},"x":{"field":"a","type":"quantitative","scale":{"domain":[0,705],"range":[0,705]},"axis":null},"y":{"field":"b","type":"quantitative","scale":{"domain":[0,941],"range":[0,941]},"axis":null}}},
{"data":{"values":[{"t":"a","a":81,"b":200},{"t":"b","a":81,"b":216.5},{"t":"l","a":82,"b":233},{"t":"p","a":82,"b":249},{"t":"s","a":82,"b":265},{"t":"in","a":454,"b":197},{"t":"out","a":454,"b":214}]},"mark":{"type":"text","align":"left","baseline":"alphabetic","font":"Liberation Serif","fontStyle":"italic","fontSize":8,"color":"#111111"},
"encoding":{"text":{"field":"t"},"x":{"field":"a","type":"quantitative","scale":{"domain":[0,705],"range":[0,705]},"axis":null},"y":{"field":"b","type":"quantitative","scale":{"domain":[0,941],"range":[0,941]},"axis":null}}},
{"data":{"values":[{"a":113,"a2":187,"b":133},{"a":243,"a2":307,"b":133},{"a":466,"a2":479,"b":133}]},"mark":{"type":"rule","color":"#000000","strokeWidth":1},
"encoding":{"x":{"field":"a","type":"quantitative","scale":{"domain":[0,705],"range":[0,705]},"axis":null},"x2":{"field":"a2"},"y":{"field":"b","type":"quantitative","scale":{"domain":[0,941],"range":[0,941]},"axis":null}}},
{"data":{"name":"parens"},"mark":{"type":"line","color":"#111111","strokeWidth":1,"interpolate":"cardinal"},
"encoding":{"x":{"field":"a","type":"quantitative","scale":{"domain":[0,705],"range":[0,705]},"axis":null},"y":{"field":"b","type":"quantitative","scale":{"domain":[0,941],"range":[0,941]},"axis":null},"detail":{"field":"p"},"order":{"field":"i"}}},
{"data":{"values":[{"t":"=","a":71,"b":139},{"t":"1","a":92,"b":139},{"t":"−","a":102,"b":139},{"t":"+","a":134,"b":128},{"t":"+","a":134,"b":154},{"t":"×100","a":195,"b":139},{"t":"=","a":233,"b":139},{"t":"+","a":262,"b":154},{"t":"×100","a":309,"b":139},{"t":"···(1a)","a":357,"b":139},{"t":"=","a":441,"b":139},{"t":"−","a":511,"b":139},{"t":"···(1b)","a":564,"b":139}]},"mark":{"type":"text","align":"left","baseline":"alphabetic","font":"Liberation Serif","fontSize":18,"color":"#111111"},
"encoding":{"text":{"field":"t"},"x":{"field":"a","type":"quantitative","scale":{"domain":[0,705],"range":[0,705]},"axis":null},"y":{"field":"b","type":"quantitative","scale":{"domain":[0,941],"range":[0,941]},"axis":null}}},
{"data":{"values":[{"t":"η","a":57,"b":139},{"t":"ε","a":116,"b":128},{"t":"φ","a":164,"b":128},{"t":"ε","a":116,"b":154},{"t":"φ","a":164,"b":154},{"t":"φ","a":276,"b":128},{"t":"ε","a":244,"b":154},{"t":"φ","a":291,"b":154},{"t":"φ","a":422,"b":139},{"t":"n","a":455,"b":139},{"t":"V","a":467,"b":128},{"t":"A","a":467,"b":154},{"t":"C","a":488,"b":139},{"t":"C","a":522,"b":139}]},"mark":{"type":"text","align":"left","baseline":"alphabetic","font":"Liberation Serif","fontStyle":"italic","fontSize":19,"color":"#111111"},
"encoding":{"text":{"field":"t"},"x":{"field":"a","type":"quantitative","scale":{"domain":[0,705],"range":[0,705]},"axis":null},"y":{"field":"b","type":"quantitative","scale":{"domain":[0,941],"range":[0,941]},"axis":null}}},
{"data":{"values":[{"t":"a","a":124,"b":131},{"t":"l","a":175,"b":131},{"t":"b","a":124,"b":157},{"t":"s","a":175,"b":157},{"t":"p","a":287,"b":131},{"t":"b","a":252,"b":157},{"t":"s","a":302,"b":157},{"t":"l","a":433,"b":142},{"t":"in","a":500,"b":142},{"t":"out","a":534,"b":142}]},"mark":{"type":"text","align":"left","baseline":"alphabetic","font":"Liberation Serif","fontStyle":"italic","fontSize":10,"color":"#111111"},
"encoding":{"text":{"field":"t"},"x":{"field":"a","type":"quantitative","scale":{"domain":[0,705],"range":[0,705]},"axis":null},"y":{"field":"b","type":"quantitative","scale":{"domain":[0,941],"range":[0,941]},"axis":null}}},
{"data":{"values":[{"t":"∑","a":147,"b":130},{"t":"∑","a":147,"b":156},{"t":"∑","a":258,"b":130},{"t":"∑","a":275,"b":156}]},"mark":{"type":"text","align":"left","baseline":"alphabetic","font":"Liberation Serif","fontSize":24,"color":"#111111"},
"encoding":{"text":{"field":"t"},"x":{"field":"a","type":"quantitative","scale":{"domain":[0,705],"range":[0,705]},"axis":null},"y":{"field":"b","type":"quantitative","scale":{"domain":[0,941],"range":[0,941]},"axis":null}}}
]
}
